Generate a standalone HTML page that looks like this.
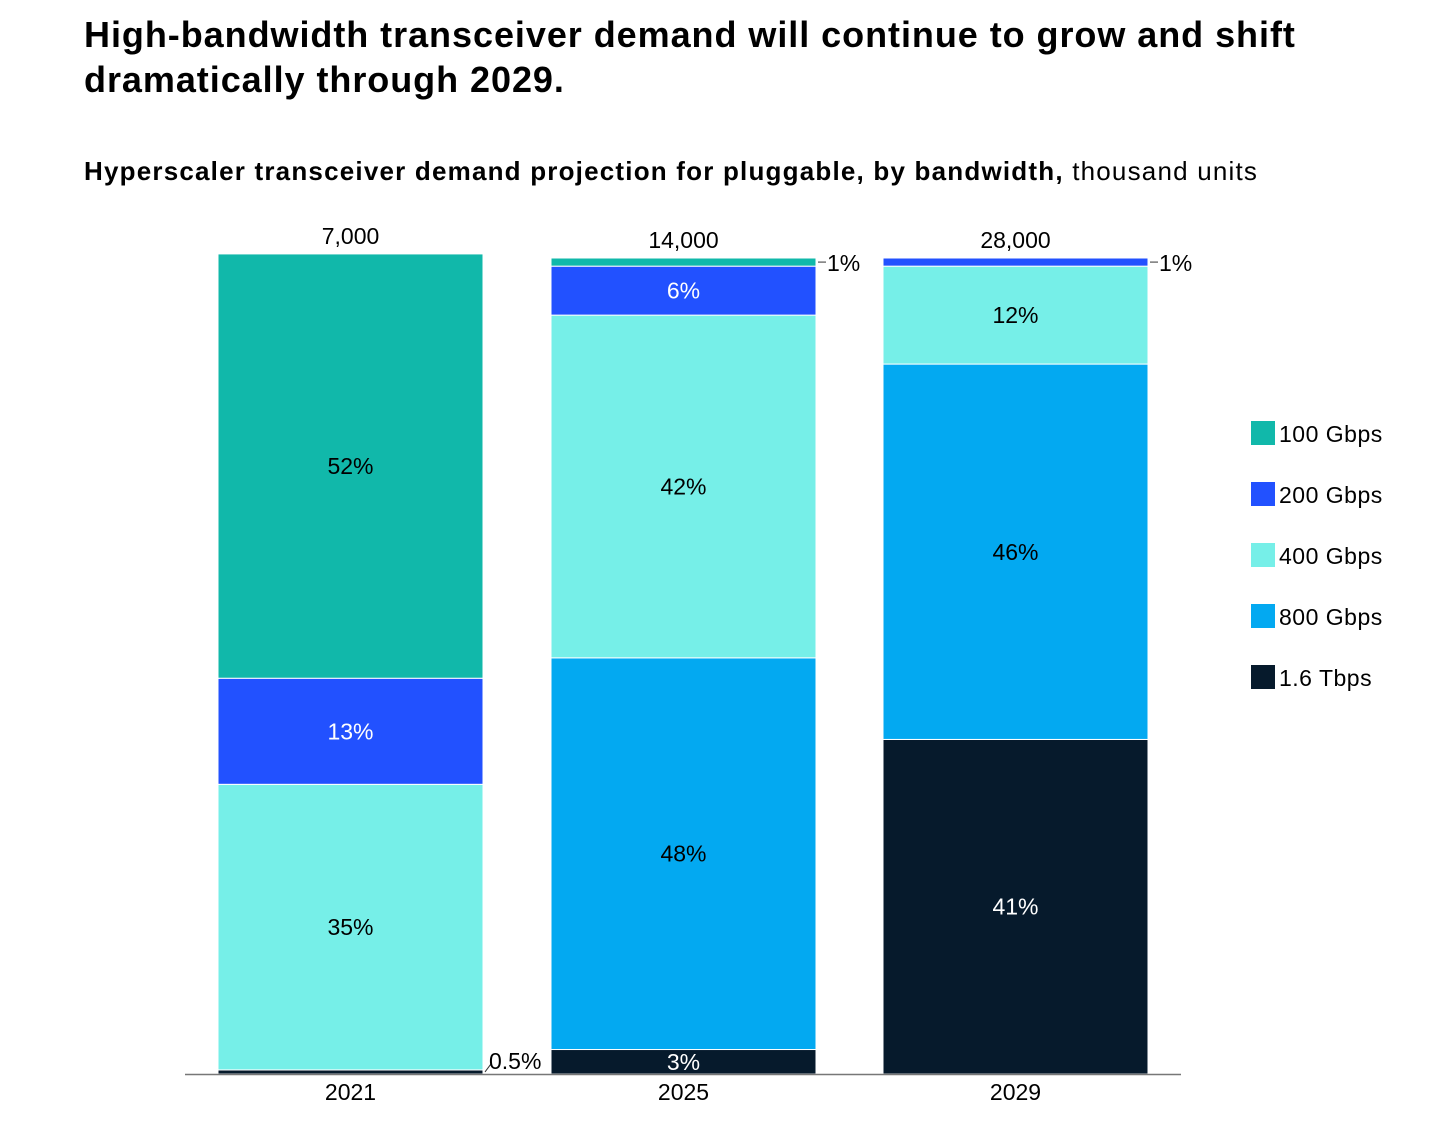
<!DOCTYPE html>
<html><head><meta charset="utf-8"><style>
body{margin:0;background:#fff;font-family:"Liberation Sans",sans-serif;}
#wrap{position:relative;width:1456px;height:1134px;overflow:hidden;}
h1{position:absolute;left:84px;top:12px;margin:0;font-size:36px;line-height:45px;font-weight:bold;color:#000;letter-spacing:0.95px;white-space:nowrap}
h2{position:absolute;left:84px;top:156px;margin:0;font-size:26px;font-weight:bold;color:#000;letter-spacing:1.2px;white-space:nowrap}
h2 span{font-weight:normal}
svg{position:absolute;left:0;top:0}
</style></head><body>
<div id="wrap">
<h1>High-bandwidth transceiver demand will continue to grow and shift<br>dramatically through 2029.</h1>
<h2>Hyperscaler transceiver demand projection for pluggable, by bandwidth, <span>thousand units</span></h2>
<svg id="chart" width="1456" height="1134"></svg>
</div>
<script>
const categories=["2021","2025","2029"];
const totals=["7,000","14,000","28,000"];
const seriesNames=["1.6 Tbps","800 Gbps","400 Gbps","200 Gbps","100 Gbps"];
const s16T=[0.5,3,41];
const s800=[0,48,46];
const s400=[35,42,12];
const s200=[13,6,1];
const s100=[52,1,0];
const labels16T=["0.5%","3%","41%"];
const labels800=["","48%","46%"];
const labels400=["35%","42%","12%"];
const labels200=["13%","6%","1%"];
const labels100=["52%","1%",""];

const series=[s16T,s800,s400,s200,s100];
const labels=[labels16T,labels800,labels400,labels200,labels100];
const colors=["#061a2c","#03a9f1","#76efe8","#2251ff","#11b8aa"];
const textColors=["#fff","#000","#000","#fff","#000"];
const NS="http://www.w3.org/2000/svg";
const svg=document.getElementById('chart');
const base=1074, pxPer=8.16;
const barX=[218,551,883], barW=265;
const y=v=>base-v*pxPer;
function mk(tag,attrs,parent){const e=document.createElementNS(NS,tag);for(const k in attrs)e.setAttribute(k,attrs[k]);(parent||svg).appendChild(e);return e;}
const font='"Liberation Sans",sans-serif';
categories.forEach((c,i)=>{
  let cum=0;
  const g=mk('g',{});
  
  
  series.forEach((s,k)=>{
    const v=s[i]; if(v<=0)return;
    const y0=y(cum+v), y1=y(cum);
    const r=mk('rect',{x:barX[i],y:y0,width:barW,height:y1-y0,fill:colors[k],stroke:'#fff','stroke-width':1},g);
    
    
    const lab=labels[k][i];
    if(lab){
      if(v>=2){
        const t=mk('text',{x:barX[i]+barW/2,y:(y0+y1)/2+8,'text-anchor':'middle','font-size':23,'font-family':font,fill:textColors[k]},g);
        t.textContent=lab;
        
        
      } else if(cum===0){
        mk('line',{x1:barX[i]+barW+2,y1:(y0+y1)/2,x2:barX[i]+barW+8,y2:(y0+y1)/2-8,stroke:'#333','stroke-width':1},g);
        const t=mk('text',{x:barX[i]+barW+6,y:(y0+y1)/2-3,'font-size':23,'font-family':font,fill:'#000'},g);
        t.textContent=lab;
        
        
      } else {
        const ym=(y0+y1)/2;
        mk('line',{x1:barX[i]+barW+2,y1:ym,x2:barX[i]+barW+10,y2:ym,stroke:'#333','stroke-width':1},g);
        const t=mk('text',{x:barX[i]+barW+11,y:ym+9,'font-size':23,'font-family':font,fill:'#000'},g);
        t.textContent=lab;
        
        
      }
    }
    cum+=v;
  });
  const tt=mk('text',{x:barX[i]+barW/2,y:y(cum)-10,'text-anchor':'middle','font-size':23,'font-family':font,fill:'#000'},g);
  tt.textContent=totals[i];
  
  
  const xl=mk('text',{x:barX[i]+barW/2,y:1100,'text-anchor':'middle','font-size':23,'font-family':font,fill:'#000'});
  xl.textContent=c;
  
  
});
const ax=mk('line',{x1:185,y1:base+0.5,x2:1181,y2:base+0.5,stroke:'#777','stroke-width':1.5});


const legendOrder=[4,3,2,1,0];
legendOrder.forEach((k,j)=>{
  const ly=421+j*61;
  const g=mk('g',{});
  
  
  mk('rect',{x:1251,y:ly,width:24,height:24,fill:colors[k]},g);
  const t=mk('text',{x:1279,y:ly+21,'font-size':23,'font-family':font,fill:'#000','letter-spacing':0.5},g);
  t.textContent=seriesNames[k];
});
</script>
</body></html>
